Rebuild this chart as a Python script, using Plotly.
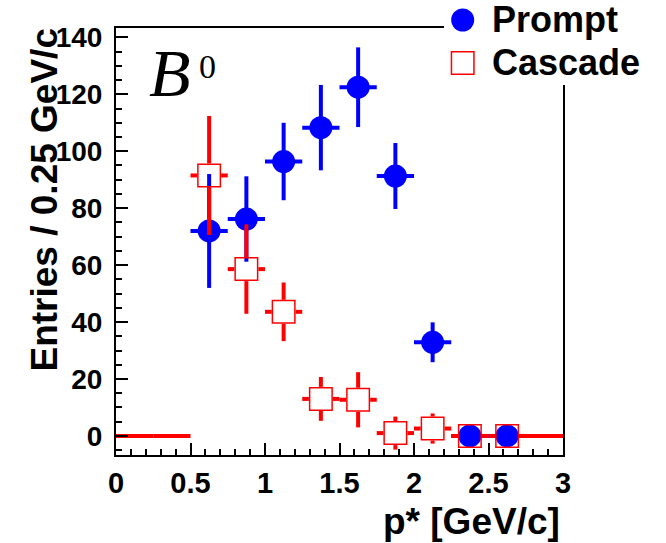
import plotly.graph_objects as go

# Bin centres of p* [GeV/c]; each bin is 0.25 GeV/c wide
p_star = [0.625, 0.875, 1.125, 1.375, 1.625, 1.875, 2.125, 2.375, 2.625]
half_bin = 0.125

prompt_entries = [72.0, 76.2, 96.4, 108.3, 122.5, 91.3, 32.9, 0.0, 0.0]
prompt_errors = [20.0, 15.0, 13.6, 15.0, 14.0, 11.6, 7.0, 0.0, 0.0]

cascade_entries = [91.5, 58.6, 43.6, 13.0, 12.7, 1.0, 2.6, 0.0, 0.0]
cascade_errors = [20.9, 15.7, 10.3, 7.7, 9.7, 5.8, 5.3, 0.0, 0.0]

# Empty cascade bins, shown only as their horizontal bar at zero
empty_bins = [0.125, 0.375, 2.875]

x_ticks = [0, 0.5, 1, 1.5, 2, 2.5, 3]
y_ticks = [0, 20, 40, 60, 80, 100, 120, 140]

# Canvas geometry
W, H = 666, 543
M_L, M_R, M_T, M_B = 116, 103, 28, 88
X_RANGE = [0.0, 3.0]
Y_RANGE = [-6.7, 143.3]
plot_w = W - M_L - M_R
plot_h = H - M_T - M_B
px_per_x = plot_w / (X_RANGE[1] - X_RANGE[0])
px_per_y = plot_h / (Y_RANGE[1] - Y_RANGE[0])

BLUE = "#0000ff"
RED = "#ff0000"
SQUARE_PX = 24.0          # open-square marker outer size
gap_x = (SQUARE_PX / 2) / px_per_x
gap_y = (SQUARE_PX / 2) / px_per_y


def px_to_paper_x(px):
    return (px - M_L) / plot_w


def px_to_paper_y(py):
    return (H - M_B - py) / plot_h


# Cascade error bars are drawn outside the hollow square only
seg_x, seg_y = [], []


def add_segment(x0, y0, x1, y1):
    seg_x.extend([x0, x1, None])
    seg_y.extend([y0, y1, None])


for x, v, e in zip(p_star, cascade_entries, cascade_errors):
    add_segment(x - half_bin, v, x - gap_x, v)
    add_segment(x + gap_x, v, x + half_bin, v)
    if e > gap_y:
        add_segment(x, v + gap_y, x, v + e)
        add_segment(x, v - gap_y, x, v - e)
for x in empty_bins:
    add_segment(x - half_bin, 0.0, x + half_bin, 0.0)

fig = go.Figure()

fig.add_trace(go.Scatter(
    x=p_star, y=prompt_entries, mode="markers", name="Prompt",
    marker=dict(symbol="circle", size=23, color=BLUE, line=dict(width=0)),
    error_y=dict(type="data", array=prompt_errors, thickness=4, width=0, color=BLUE),
    error_x=dict(type="constant", value=half_bin, thickness=4, width=0, color=BLUE),
    cliponaxis=False,
))

fig.add_trace(go.Scatter(
    x=seg_x, y=seg_y, mode="lines", name="Cascade errors",
    line=dict(color=RED, width=4), showlegend=False, hoverinfo="skip",
))

fig.add_trace(go.Scatter(
    x=p_star, y=cascade_entries, mode="markers", name="Cascade",
    marker=dict(symbol="square-open", size=SQUARE_PX - 1.5, color=RED,
                line=dict(width=1.5, color=RED)),
    cliponaxis=False,
))

SANS = "Liberation Sans, Arial, sans-serif"
SERIF = "Liberation Serif, Times New Roman, serif"

axis_common = dict(
    showline=True, linewidth=2, linecolor="black", mirror=True,
    showgrid=False, zeroline=False,
    ticks="inside", ticklen=12, tickwidth=2, tickcolor="black",
    tickmode="array",
)

fig.update_xaxes(
    range=X_RANGE, tickvals=x_ticks, ticktext=[f"{t:g}" for t in x_ticks],
    tickfont=dict(family=SANS, size=29, color="black", weight="bold"),
    minor=dict(tickmode="linear", tick0=0, dtick=0.1, ticks="inside",
               ticklen=6, tickwidth=2, tickcolor="black", showgrid=False),
    ticklabelstandoff=1,
    **axis_common,
)
fig.update_yaxes(
    range=Y_RANGE, tickvals=y_ticks, ticktext=[str(t) for t in y_ticks],
    tickfont=dict(family=SANS, size=28, color="black", weight="bold"),
    minor=dict(tickmode="linear", tick0=0, dtick=5, ticks="inside",
               ticklen=6, tickwidth=2, tickcolor="black", showgrid=False),
    ticklabelstandoff=6,
    **axis_common,
)

title_font = dict(family=SANS, size=37, color="black", weight="bold")
legend_font = dict(family=SANS, size=36, color="black", weight="bold")

annotations = [
    dict(text="p* [GeV/c]", xref="paper", yref="paper",
         x=px_to_paper_x(562), y=px_to_paper_y(521), xanchor="right", yanchor="middle",
         showarrow=False, font=title_font),
    dict(text="Entries / 0.25 GeV/c", xref="paper", yref="paper", textangle=-90,
         x=px_to_paper_x(44), y=px_to_paper_y(27), xanchor="center", yanchor="top",
         showarrow=False, font=title_font),
    dict(text="<i>B</i>", xref="paper", yref="paper",
         x=px_to_paper_x(147), y=px_to_paper_y(73), xanchor="left", yanchor="middle",
         showarrow=False, font=dict(family=SERIF, size=68, color="black")),
    dict(text="0", xref="paper", yref="paper",
         x=px_to_paper_x(207), y=px_to_paper_y(66), xanchor="center", yanchor="middle",
         showarrow=False, font=dict(family=SERIF, size=34, color="black")),
    dict(text="Prompt", xref="paper", yref="paper",
         x=px_to_paper_x(490), y=px_to_paper_y(20), xanchor="left", yanchor="middle",
         showarrow=False, font=legend_font),
    dict(text="Cascade", xref="paper", yref="paper",
         x=px_to_paper_x(490), y=px_to_paper_y(63), xanchor="left", yanchor="middle",
         showarrow=False, font=legend_font),
]

shapes = [
    # legend panel covering the upper-right corner of the frame
    dict(type="rect", xref="paper", yref="paper", layer="above",
         x0=px_to_paper_x(444), x1=px_to_paper_x(W + 5),
         y0=px_to_paper_y(85), y1=px_to_paper_y(-5),
         fillcolor="white", line=dict(width=0)),
    # legend keys
    dict(type="circle", xref="paper", yref="paper", layer="above",
         xsizemode="pixel", ysizemode="pixel",
         xanchor=px_to_paper_x(462.7), yanchor=px_to_paper_y(20),
         x0=-11.5, x1=11.5, y0=-11.5, y1=11.5,
         fillcolor=BLUE, line=dict(width=0)),
    dict(type="rect", xref="paper", yref="paper", layer="above",
         xsizemode="pixel", ysizemode="pixel",
         xanchor=px_to_paper_x(462.7), yanchor=px_to_paper_y(63),
         x0=-11.25, x1=11.25, y0=-11.25, y1=11.25,
         fillcolor="rgba(0,0,0,0)", line=dict(width=1.5, color=RED)),
]

fig.update_layout(
    width=W, height=H,
    margin=dict(l=M_L, r=M_R, t=M_T, b=M_B, pad=0),
    paper_bgcolor="white", plot_bgcolor="white",
    showlegend=False,
    annotations=annotations,
    shapes=shapes,
)

fig.write_html("out.html")
